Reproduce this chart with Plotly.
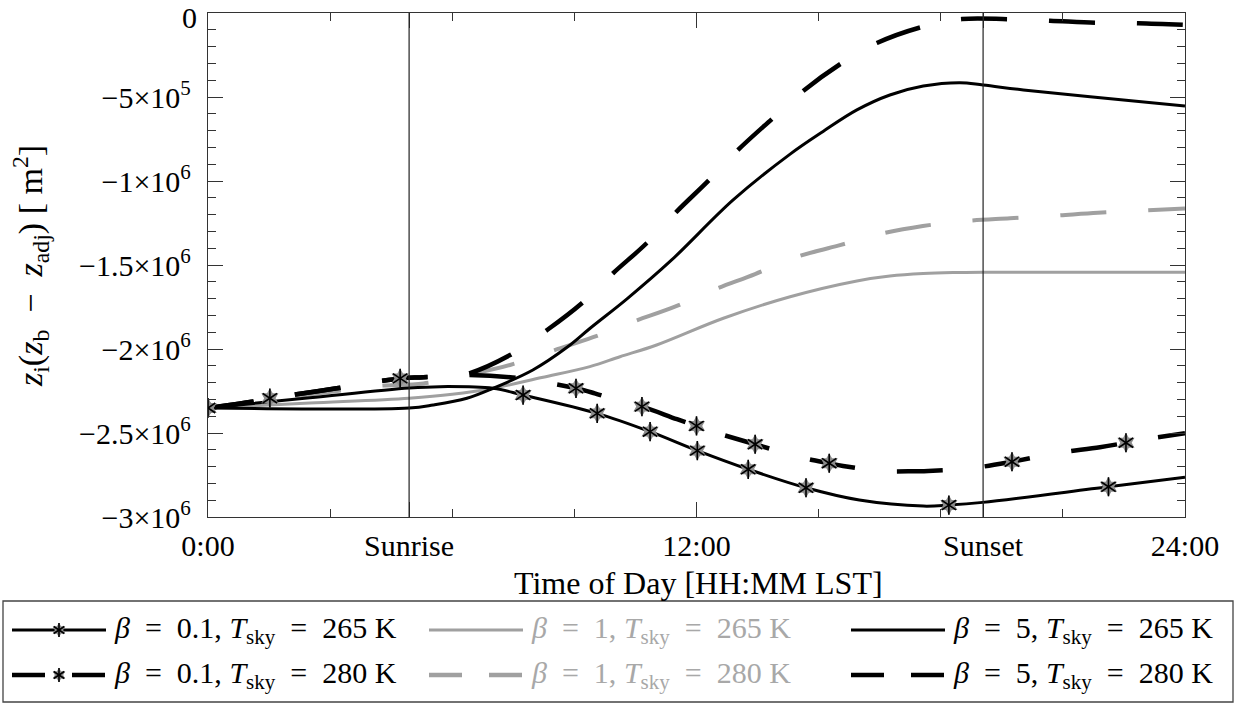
import plotly.graph_objects as go

W, H = 1238, 704

# Sunrise / sunset hours (LST)
SUNRISE = 4.94
SUNSET = 19.04

# ---- series: hours and z_i(z_b - z_adj) [m^2] ----
t_b01_265 = [0, 2.5, 4.94, 5.70, 7.0, 7.74, 9.56, 10.86, 12.02, 13.27, 14.69, 16.0,
             17.57, 18.20, 19.03, 22.12, 24]
z_b01_265 = [-2.351e6, -2.290e6, -2.232e6, -2.224e6, -2.234e6, -2.274e6, -2.383e6,
             -2.492e6, -2.605e6, -2.716e6, -2.826e6, -2.899e6, -2.935e6, -2.929e6,
             -2.913e6, -2.820e6, -2.764e6]
mk_b01_265 = [0, 7.74, 9.56, 10.86, 12.02, 13.27, 14.69, 18.20, 22.12]

t_b01_280 = [0, 1.07, 1.52, 2.06, 3.16, 4.14, 4.72, 5.29, 6.26, 7.42, 8.40, 9.04, 9.50,
             10.44, 10.66, 11.52, 12.0, 12.45, 13.44, 14.49, 15.26, 15.60, 16.58, 17.2,
             17.69, 18.72, 19.75, 20.81, 21.91, 22.55, 22.89, 24]
z_b01_280 = [-2.351e6, -2.314e6, -2.293e6, -2.274e6, -2.234e6, -2.195e6, -2.175e6,
             -2.168e6, -2.155e6, -2.168e6, -2.204e6, -2.234e6, -2.264e6, -2.333e6,
             -2.343e6, -2.418e6, -2.458e6, -2.496e6, -2.567e6, -2.641e6, -2.680e6,
             -2.696e6, -2.726e6, -2.728e6, -2.726e6, -2.710e6, -2.671e6, -2.621e6,
             -2.585e6, -2.558e6, -2.542e6, -2.502e6]
mk_b01_280 = [0, 1.52, 4.72, 9.04, 10.66, 12.0, 13.44, 15.26, 19.75, 22.55]

t_b1_265 = [0, 2.5, 4.94, 6.0, 7.0, 8.2, 9.38, 10.12, 11.02, 12.66, 14.30, 15.94,
            16.75, 17.57, 18.3, 19.04, 24]
z_b1_265 = [-2.351e6, -2.322e6, -2.293e6, -2.270e6, -2.234e6, -2.170e6, -2.105e6,
            -2.046e6, -1.976e6, -1.817e6, -1.689e6, -1.595e6, -1.566e6, -1.551e6,
            -1.545e6, -1.543e6, -1.543e6]

t_b1_280 = [0, 1.07, 2.06, 3.16, 4.14, 5.29, 6.36, 7.42, 8.40, 9.46, 10.44, 11.47,
            12.45, 13.44, 14.47, 15.48, 16.48, 17.56, 18.60, 19.70, 20.76, 21.86,
            22.89, 24]
z_b1_280 = [-2.351e6, -2.318e6, -2.285e6, -2.250e6, -2.220e6, -2.205e6, -2.155e6,
            -2.095e6, -2.016e6, -1.930e6, -1.838e6, -1.748e6, -1.645e6, -1.554e6,
            -1.451e6, -1.385e6, -1.317e6, -1.268e6, -1.238e6, -1.222e6, -1.207e6,
            -1.189e6, -1.177e6, -1.163e6]

t_b5_265 = [0, 4.94, 5.53, 6.36, 7.0, 7.98, 8.82, 9.38, 10.3, 11.39, 12.90, 14.30,
            15.11, 15.94, 16.75, 17.57, 18.47, 19.04, 20.03, 21.67, 24]
z_b5_265 = [-2.351e6, -2.351e6, -2.333e6, -2.293e6, -2.234e6, -2.125e6, -1.990e6,
            -1.878e6, -1.700e6, -1.470e6, -1.113e6, -0.840e6, -0.705e6, -0.577e6,
            -0.488e6, -0.435e6, -0.415e6, -0.429e6, -0.458e6, -0.498e6, -0.554e6]

t_b5_280 = [0, 1.07, 2.06, 3.16, 4.14, 4.72, 5.29, 6.26, 7.42, 8.33, 9.19, 9.95, 10.78,
            11.50, 12.31, 13.02, 13.88, 14.62, 15.57, 16.43, 17.54, 18.52, 19.65,
            20.68, 21.84, 22.85, 24]
z_b5_280 = [-2.351e6, -2.314e6, -2.274e6, -2.234e6, -2.195e6, -2.175e6, -2.168e6,
            -2.155e6, -2.036e6, -1.887e6, -1.726e6, -1.549e6, -1.369e6, -1.185e6,
            -0.994e6, -0.815e6, -0.625e6, -0.464e6, -0.298e6, -0.179e6, -0.083e6,
            -0.036e6, -0.037e6, -0.046e6, -0.058e6, -0.061e6, -0.071e6]

# ---- axis ticks ----
x_tickvals = [0, SUNRISE, 12, SUNSET, 24]
x_ticktext = ["0:00", "Sunrise", "12:00", "Sunset", "24:00"]
x_minor = [3, 6, 9, 15, 18, 21]
y_tickvals = [0, -5e5, -1e6, -1.5e6, -2e6, -2.5e6, -3e6]
# the top label ("0") is written separately so it stays inside the page
y_ticktext = ["", "−5×10<sup>5</sup>", "−1×10<sup>6</sup>", "−1.5×10<sup>6</sup>",
              "−2×10<sup>6</sup>", "−2.5×10<sup>6</sup>", "−3×10<sup>6</sup>"]
Y_TOP_LABEL = "0"

# ---- legend labels ----
EQ = "\u2002=\u2002"
LBL_B01_265 = f"<i>β</i>{EQ}0.1, <i>T</i><sub>sky</sub>{EQ}265 K"
LBL_B01_280 = f"<i>β</i>{EQ}0.1, <i>T</i><sub>sky</sub>{EQ}280 K"
LBL_B1_265 = f"<i>β</i>{EQ}1, <i>T</i><sub>sky</sub>{EQ}265 K"
LBL_B1_280 = f"<i>β</i>{EQ}1, <i>T</i><sub>sky</sub>{EQ}280 K"
LBL_B5_265 = f"<i>β</i>{EQ}5, <i>T</i><sub>sky</sub>{EQ}265 K"
LBL_B5_280 = f"<i>β</i>{EQ}5, <i>T</i><sub>sky</sub>{EQ}280 K"

FONT = "Liberation Serif"
FS = 30
BLACK = "#000000"
GRAY = "#a0a0a0"
GRAY_TXT = "#a8a8a8"
AX = "#333333"
DASH_PLOT = "46px,42px"
DASH_LEG = "33px,27px"

fig = go.Figure()


def curve(t, z, color, width, dash="solid"):
    fig.add_trace(go.Scatter(x=t, y=z, mode="lines", showlegend=False, hoverinfo="skip",
                             line=dict(color=color, width=width, dash=dash,
                                       shape="spline", smoothing=1.0)))


def star_markers(xs, ys, size, xaxis="x", yaxis="y"):
    # gray six-point star underneath a black six-spoke asterisk
    fig.add_trace(go.Scatter(x=xs, y=ys, mode="markers", showlegend=False, hoverinfo="skip",
                             xaxis=xaxis, yaxis=yaxis,
                             marker=dict(symbol="hexagram", size=size, color="#8c8c8c",
                                         line=dict(width=0))))
    for sym in ("y-up-open", "y-down-open"):
        fig.add_trace(go.Scatter(x=xs, y=ys, mode="markers", showlegend=False,
                                 hoverinfo="skip", xaxis=xaxis, yaxis=yaxis,
                                 marker=dict(symbol=sym, size=size * 0.8, color=BLACK,
                                             line=dict(width=1.6, color=BLACK))))


curve(t_b1_265, z_b1_265, GRAY, 3)
curve(t_b1_280, z_b1_280, GRAY, 4, DASH_PLOT)
curve(t_b5_265, z_b5_265, BLACK, 3)
curve(t_b5_280, z_b5_280, BLACK, 4.5, DASH_PLOT)
curve(t_b01_265, z_b01_265, BLACK, 3)
curve(t_b01_280, z_b01_280, BLACK, 4.5, DASH_PLOT)

lut265 = dict(zip(t_b01_265, z_b01_265))
lut280 = dict(zip(t_b01_280, z_b01_280))
star_markers(mk_b01_265, [lut265[t] for t in mk_b01_265], 15)
star_markers(mk_b01_280, [lut280[t] for t in mk_b01_280], 15)

# sunrise / sunset markers
for xv in (SUNRISE, SUNSET):
    fig.add_shape(type="line", xref="x", yref="y domain", x0=xv, x1=xv, y0=0, y1=1,
                  line=dict(color="#222222", width=1.2), layer="above")

# ---- legend (drawn on an overlay axis measured in pixels) ----
leg_box = dict(x0=3, x1=1233, y0=601, y1=702)
leg_rows = [630, 675]
leg_cols = [12, 429, 851]
SAMPLE_LEN = 94
legend_entries = [
    (0, 0, BLACK, 3, "solid", True, LBL_B01_265, BLACK),
    (0, 1, BLACK, 4.5, DASH_LEG, True, LBL_B01_280, BLACK),
    (1, 0, GRAY, 3, "solid", False, LBL_B1_265, GRAY_TXT),
    (1, 1, GRAY, 4.5, DASH_LEG, False, LBL_B1_280, GRAY_TXT),
    (2, 0, BLACK, 3, "solid", False, LBL_B5_265, BLACK),
    (2, 1, BLACK, 4.5, DASH_LEG, False, LBL_B5_280, BLACK),
]
for ci, ri, col, lw, dash, star, label, tcol in legend_entries:
    x0 = leg_cols[ci]
    yr = leg_rows[ri]
    fig.add_trace(go.Scatter(x=[x0, x0 + SAMPLE_LEN], y=[yr, yr], mode="lines",
                             xaxis="x2", yaxis="y2", showlegend=False, hoverinfo="skip",
                             cliponaxis=False, line=dict(color=col, width=lw, dash=dash)))
    if star:
        star_markers([x0 + SAMPLE_LEN / 2], [yr], 11, xaxis="x2", yaxis="y2")
    fig.add_annotation(x=(x0 + SAMPLE_LEN + 6) / W, y=1 - yr / H, xref="paper", yref="paper",
                       xanchor="left", yanchor="middle", showarrow=False, text=label,
                       font=dict(family=FONT, size=FS, color=tcol))

fig.add_shape(type="rect", xref="paper", yref="paper",
              x0=leg_box["x0"] / W, x1=leg_box["x1"] / W,
              y0=1 - leg_box["y1"] / H, y1=1 - leg_box["y0"] / H,
              line=dict(color="#444444", width=1.3), fillcolor="rgba(0,0,0,0)")

# top y tick label
fig.add_annotation(x=198 / W, y=1, xref="paper", yref="paper", showarrow=False,
                   xanchor="right", yanchor="top", text=Y_TOP_LABEL, borderpad=0,
                   font=dict(family=FONT, size=FS, color=BLACK))

# axis titles
fig.add_annotation(x=698 / W, y=1 - 583 / H, xref="paper", yref="paper", showarrow=False,
                   xanchor="center", yanchor="middle", text="Time of Day [HH:MM LST]",
                   font=dict(family=FONT, size=32, color=BLACK))
fig.add_annotation(x=30 / W, y=1 - 266 / H, xref="paper", yref="paper", showarrow=False,
                   xanchor="center", yanchor="middle", textangle=-90,
                   text="<i>z</i><sub>i</sub>(<i>z</i><sub>b</sub>\u2002−\u2002<i>z</i><sub>adj</sub>) [ m<sup>2</sup>]",
                   font=dict(family=FONT, size=34, color=BLACK))

x_dom = [208 / W, 1185 / W]
y_dom = [1 - 517 / H, 1 - 13 / H]

fig.update_layout(
    width=W, height=H, margin=dict(l=0, r=0, t=0, b=0, autoexpand=False),
    paper_bgcolor="white", plot_bgcolor="rgba(0,0,0,0)",
    font=dict(family=FONT, size=FS, color=BLACK),
    xaxis=dict(domain=x_dom, range=[0, 24], anchor="y", automargin=False,
               tickmode="array", tickvals=x_tickvals, ticktext=x_ticktext,
               ticks="inside", ticklen=15, tickwidth=1.2, tickcolor=AX,
               minor=dict(tickvals=x_minor, ticks="inside", ticklen=8, tickwidth=1.2,
                          tickcolor=AX),
               showline=True, linecolor=AX, linewidth=1.3, mirror="ticks",
               showgrid=False, zeroline=False, ticklabelstandoff=2,
               ticklabeloverflow="allow",
               tickfont=dict(family=FONT, size=FS, color=BLACK)),
    yaxis=dict(domain=y_dom, range=[-3e6, 0], anchor="x", automargin=False,
               tickmode="array", tickvals=y_tickvals, ticktext=y_ticktext,
               ticks="inside", ticklen=15, tickwidth=1.2, tickcolor=AX,
               minor=dict(dtick=1e5, tick0=0, ticks="inside", ticklen=8, tickwidth=1.2,
                          tickcolor=AX),
               showline=True, linecolor=AX, linewidth=1.3, mirror="ticks",
               showgrid=False, zeroline=False, ticklabelstandoff=10,
               ticklabeloverflow="allow",
               tickfont=dict(family=FONT, size=FS, color=BLACK)),
    xaxis2=dict(domain=[0, 1], range=[0, W], anchor="y2", visible=False, fixedrange=True,
                automargin=False),
    yaxis2=dict(domain=[0, 1], range=[H, 0], anchor="x2", visible=False, fixedrange=True,
                automargin=False),
)

fig.write_html("out.html")
